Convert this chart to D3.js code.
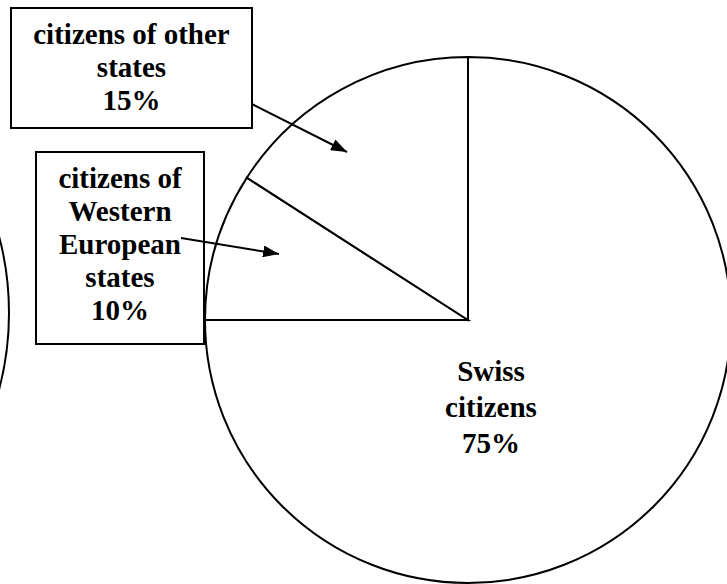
<!DOCTYPE html>
<html><head><meta charset="utf-8">
<script src="https://cdn.jsdelivr.net/npm/d3@7/dist/d3.min.js"></script>
<style>
html,body{margin:0;padding:0;background:#fff;}
svg{display:block;}
text{font-family:"Liberation Serif","Times New Roman",serif;font-weight:bold;fill:#000;}
</style></head>
<body>
<svg id="chart" width="727" height="584"></svg>
<script>
// Data
const categories = ["Swiss citizens", "citizens of Western European states", "citizens of other states"];
const values = [75, 9.1, 15.9];          // slice sizes as drawn
const percentLabels = ["75%", "10%", "15%"];
const labelLines = [
  ["Swiss", "citizens"],
  ["citizens of", "Western", "European", "states"],
  ["citizens of other", "states"]
];

const svg = d3.select("#chart");
const W = 727, H = 584;
const cx = 468, cy = 320, R = 263;

// partial circle from adjacent figure at left edge
const arcGen0 = d3.arc().innerRadius(0).outerRadius(300);
svg.append("path")
  .attr("transform", "translate(-291,313)")
  .attr("d", arcGen0({startAngle: 0, endAngle: 2 * Math.PI}))
  .attr("fill", "none").attr("stroke", "#000").attr("stroke-width", 2);

const pie = d3.pie().sort(null).value(d => d).startAngle(0).endAngle(2 * Math.PI);
const arcs = pie(values);
const arcGen = d3.arc().innerRadius(0).outerRadius(R);

const g = svg.append("g").attr("transform", `translate(${cx},${cy})`);
g.selectAll("path.slice").data(arcs).join("path")
  .attr("class", "slice")
  .attr("d", arcGen)
  .attr("fill", "#fff")
  .attr("stroke", "#000")
  .attr("stroke-width", 2)
  .attr("stroke-linejoin", "miter");

// Swiss label inside
const swissLines = labelLines[0].concat([percentLabels[0]]);
const st = g.append("text").attr("text-anchor", "middle")
  .style("font-size", "29px");
swissLines.forEach((l, i) => {
  st.append("tspan").attr("x", 23).attr("y", 61 + i * 36).text(l);
});

// Callout boxes
const boxes = [
  {idx: 2, x: 11, y: 8, w: 241, h: 120, tx: 131.5, ty: 44, lh: 33},
  {idx: 1, x: 36, y: 152, w: 168, h: 192, tx: 120, ty: 188, lh: 33}
];
boxes.forEach(b => {
  svg.append("rect").attr("x", b.x).attr("y", b.y).attr("width", b.w).attr("height", b.h)
    .attr("fill", "#fff").attr("stroke", "#000").attr("stroke-width", 2);
  const t = svg.append("text").attr("text-anchor", "middle")
    .style("font-size", "29px");
  labelLines[b.idx].concat([percentLabels[b.idx]]).forEach((l, i) => {
    t.append("tspan").attr("x", b.tx).attr("y", b.ty + i * b.lh).text(l);
  });
});

// arrows
svg.append("defs").append("marker")
  .attr("id", "ah").attr("viewBox", "0 0 16 12").attr("refX", 16).attr("refY", 6)
  .attr("markerWidth", 16).attr("markerHeight", 12).attr("markerUnits", "userSpaceOnUse")
  .attr("orient", "auto")
  .append("path").attr("d", "M0,0 L16,6 L0,12 Z").attr("fill", "#000");

const arrows = [
  {x1: 252, y1: 104, x2: 347, y2: 152},
  {x1: 181, y1: 238, x2: 279, y2: 254}
];
svg.selectAll("line.arrow").data(arrows).join("line")
  .attr("class", "arrow")
  .attr("x1", d => d.x1).attr("y1", d => d.y1)
  .attr("x2", d => d.x2).attr("y2", d => d.y2)
  .attr("stroke", "#000").attr("stroke-width", 2)
  .attr("marker-end", "url(#ah)");
</script>
</body></html>
